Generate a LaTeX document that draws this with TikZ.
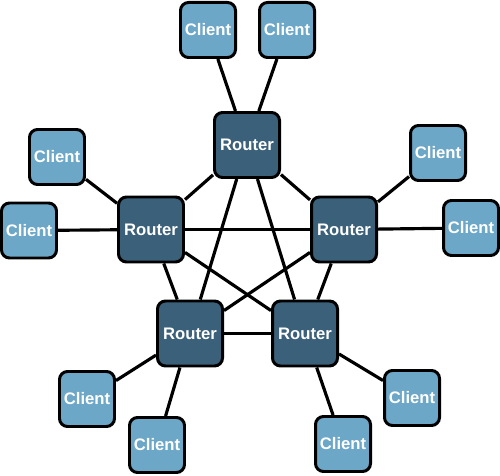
\documentclass[tikz,border=0pt]{standalone}
\usepackage{fontspec}
\setmainfont{Liberation Sans}
\usepackage{tikz}
\definecolor{routerblue}{HTML}{3B6079}
\definecolor{clientblue}{HTML}{6DA7C7}

\begin{document}
\begin{tikzpicture}[
  box/.style={draw=black,line width=1.7pt,rounded corners=0.16cm,text=white,font=\fontsize{9.5}{10}\selectfont\bfseries,inner sep=0pt},
  router/.style={box,fill=routerblue,minimum width=1.3cm,minimum height=1.3cm},
  client/.style={box,fill=clientblue,minimum width=1.1cm,minimum height=1.1cm},
  link/.style={line width=1.8pt}]
\useasboundingbox (0,0) rectangle (10,9.5);
% routers
\node[router] (rtop) at (4.94,6.60){Router};
\node[router] (rleft) at (3.02,4.91){Router};
\node[router] (rright) at (6.88,4.91){Router};
\node[router] (rbl) at (3.80,2.83){Router};
\node[router] (rbr) at (6.10,2.83){Router};
% clients
\node[client] (ctop1) at (4.16,8.90){Client};
\node[client] (ctop2) at (5.74,8.90){Client};
\node[client] (cleft1) at (1.14,6.36){Client};
\node[client] (cleft2) at (0.58,4.89){Client};
\node[client] (cright1) at (8.76,6.44){Client};
\node[client] (cright2) at (9.42,4.94){Client};
\node[client] (cbl1) at (1.74,1.52){Client};
\node[client] (cbl2) at (3.14,0.60){Client};
\node[client] (cbr2) at (6.86,0.62){Client};
\node[client] (cbr1) at (8.24,1.54){Client};
% router mesh
\draw[link] (rtop) -- (rleft);
\draw[link] (rtop) -- (rright);
\draw[link] (rtop) -- (rbl);
\draw[link] (rtop) -- (rbr);
\draw[link] (rleft) -- (rright);
\draw[link] (rleft) -- (rbl);
\draw[link] (rleft) -- (rbr);
\draw[link] (rright) -- (rbl);
\draw[link] (rright) -- (rbr);
\draw[link] (rbl) -- (rbr);
% clients to routers
\draw[link] (ctop1) -- (rtop);
\draw[link] (ctop2) -- (rtop);
\draw[link] (cleft1) -- (rleft);
\draw[link] (cleft2) -- (rleft);
\draw[link] (cright1) -- (rright);
\draw[link] (cright2) -- (rright);
\draw[link] (cbl1) -- (rbl);
\draw[link] (cbl2) -- (rbl);
\draw[link] (cbr1) -- (rbr);
\draw[link] (cbr2) -- (rbr);
\end{tikzpicture}
\end{document}
